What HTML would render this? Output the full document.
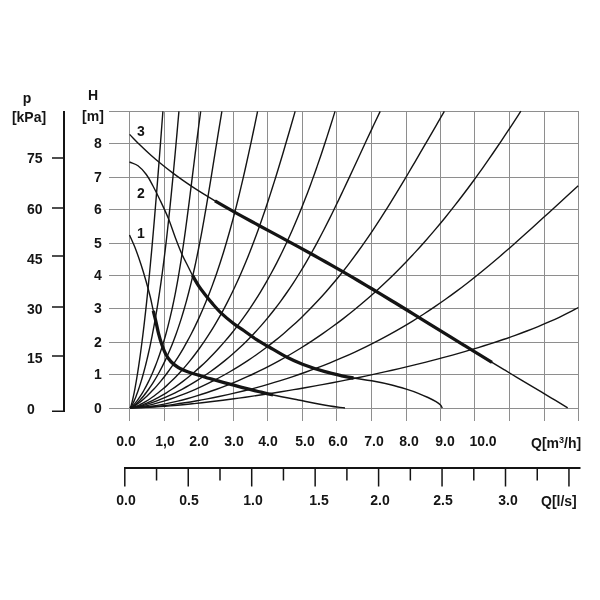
<!DOCTYPE html>
<html><head><meta charset="utf-8"><style>
html,body{margin:0;padding:0;background:#fff}
body{width:600px;height:600px;position:relative;overflow:hidden;font-family:"Liberation Sans",sans-serif;font-weight:bold;color:#141414}
.t{position:absolute;white-space:nowrap;line-height:1;font-size:14px;will-change:transform}
.c{transform:translateX(-50%)}
sup{font-size:9px;vertical-align:baseline;position:relative;top:-5px}
</style></head><body>
<svg width="600" height="600" viewBox="0 0 600 600" style="position:absolute;left:0;top:0">
<path d="M129.5 111 V420.5 M164.5 111 V420.5 M198.5 111 V420.5 M233.5 111 V420.5 M267.5 111 V420.5 M302.5 111 V420.5 M336.5 111 V420.5 M371.5 111 V420.5 M406.5 111 V420.5 M440.5 111 V420.5 M474.5 111 V420.5 M509.5 111 V420.5 M544.5 111 V420.5 M578.5 111 V420.5 M109 408.5 H579 M109 374.5 H579 M109 342.5 H579 M109 308.5 H579 M109 275.5 H579 M109 243.5 H579 M109 209.5 H579 M109 177.5 H579 M109 143.5 H579 M109 111.5 H579" stroke="#8e8e8e" stroke-width="1" fill="none" shape-rendering="crispEdges"/>
<path d="M130.00 407.80 C130.08 407.74 130.18 407.69 130.23 407.61 C130.35 407.45 130.44 407.25 130.53 407.06 C130.66 406.76 130.78 406.45 130.89 406.13 C131.04 405.70 131.18 405.27 131.31 404.84 C131.47 404.28 131.63 403.73 131.78 403.17 C131.96 402.49 132.13 401.81 132.30 401.13 C132.50 400.33 132.68 399.53 132.87 398.72 C133.08 397.80 133.28 396.87 133.48 395.94 C133.70 394.90 133.91 393.85 134.12 392.79 C134.36 391.62 134.59 390.45 134.81 389.28 C135.05 387.98 135.29 386.68 135.53 385.38 C135.78 383.97 136.03 382.55 136.27 381.12 C136.54 379.58 136.79 378.04 137.05 376.49 C137.32 374.83 137.58 373.16 137.84 371.49 C138.12 369.70 138.40 367.91 138.66 366.12 C138.95 364.21 139.23 362.29 139.50 360.38 C139.79 358.34 140.08 356.30 140.36 354.26 C140.66 352.10 140.95 349.94 141.23 347.78 C141.53 345.50 141.83 343.21 142.12 340.92 C142.43 338.52 142.73 336.11 143.02 333.70 C143.33 331.17 143.63 328.64 143.93 326.10 C144.24 323.45 144.55 320.79 144.85 318.14 C145.17 315.36 145.48 312.58 145.78 309.80 C146.10 306.90 146.42 304.00 146.72 301.10 C147.04 298.07 147.36 295.05 147.67 292.02 C147.99 288.87 148.31 285.72 148.63 282.57 C148.95 279.30 149.27 276.03 149.59 272.75 C149.91 269.36 150.24 265.96 150.55 262.56 C150.88 259.04 151.21 255.52 151.53 252.00 C151.86 248.36 152.19 244.72 152.51 241.07 C152.85 237.31 153.17 233.54 153.50 229.77 C153.84 225.88 154.17 221.99 154.50 218.10 C154.84 214.09 155.17 210.08 155.50 206.06 C155.85 201.93 156.19 197.79 156.52 193.65 C156.87 189.39 157.21 185.13 157.55 180.87 C157.90 176.48 158.24 172.10 158.59 167.72 C158.94 163.21 159.29 158.70 159.64 154.19 C160.00 149.56 160.35 144.93 160.71 140.30 C161.07 135.54 161.43 130.79 161.79 126.03 C162.16 121.16 162.53 116.28 162.89 111.40" stroke="#141414" stroke-width="1.4" fill="none"/>
<path d="M130.00 407.80 C130.12 407.74 130.26 407.70 130.36 407.61 C130.54 407.45 130.71 407.26 130.86 407.06 C131.08 406.76 131.29 406.45 131.48 406.13 C131.75 405.71 131.99 405.27 132.23 404.84 C132.53 404.29 132.81 403.73 133.08 403.17 C133.41 402.50 133.73 401.82 134.03 401.13 C134.39 400.33 134.73 399.53 135.07 398.72 C135.45 397.80 135.82 396.87 136.18 395.94 C136.58 394.90 136.97 393.85 137.35 392.79 C137.78 391.63 138.19 390.45 138.59 389.28 C139.03 387.98 139.46 386.69 139.87 385.38 C140.33 383.97 140.77 382.55 141.20 381.12 C141.66 379.58 142.12 378.04 142.56 376.49 C143.03 374.83 143.50 373.16 143.95 371.49 C144.43 369.70 144.90 367.91 145.36 366.12 C145.85 364.21 146.32 362.29 146.78 360.38 C147.28 358.34 147.75 356.30 148.22 354.26 C148.71 352.10 149.19 349.94 149.66 347.78 C150.16 345.50 150.64 343.21 151.10 340.92 C151.60 338.52 152.08 336.11 152.54 333.70 C153.03 331.17 153.51 328.64 153.98 326.10 C154.46 323.45 154.94 320.80 155.40 318.14 C155.88 315.36 156.35 312.58 156.81 309.80 C157.29 306.90 157.76 304.00 158.21 301.10 C158.68 298.07 159.14 295.05 159.59 292.02 C160.06 288.87 160.52 285.72 160.96 282.57 C161.42 279.30 161.87 276.03 162.31 272.75 C162.76 269.36 163.21 265.96 163.64 262.56 C164.09 259.05 164.53 255.53 164.96 252.00 C165.40 248.36 165.83 244.72 166.26 241.07 C166.69 237.31 167.12 233.54 167.54 229.77 C167.97 225.89 168.40 222.00 168.81 218.10 C169.24 214.09 169.66 210.08 170.08 206.06 C170.50 201.93 170.92 197.79 171.33 193.65 C171.75 189.39 172.17 185.13 172.58 180.87 C173.01 176.49 173.42 172.10 173.83 167.72 C174.26 163.21 174.67 158.70 175.09 154.19 C175.51 149.56 175.93 144.93 176.35 140.30 C176.78 135.54 177.21 130.79 177.63 126.03 C178.06 121.16 178.49 116.28 178.93 111.40" stroke="#141414" stroke-width="1.4" fill="none"/>
<path d="M130.00 407.80 C130.19 407.74 130.39 407.71 130.57 407.61 C130.86 407.46 131.14 407.26 131.40 407.06 C131.78 406.77 132.13 406.46 132.47 406.13 C132.91 405.72 133.34 405.28 133.75 404.84 C134.25 404.29 134.74 403.74 135.21 403.17 C135.77 402.50 136.31 401.82 136.84 401.13 C137.44 400.34 138.03 399.54 138.60 398.72 C139.24 397.81 139.86 396.88 140.47 395.94 C141.14 394.91 141.80 393.86 142.44 392.79 C143.14 391.63 143.83 390.46 144.49 389.28 C145.21 387.99 145.91 386.69 146.60 385.38 C147.33 383.97 148.05 382.55 148.75 381.12 C149.50 379.59 150.22 378.05 150.93 376.49 C151.68 374.84 152.41 373.17 153.12 371.49 C153.87 369.71 154.61 367.92 155.32 366.12 C156.07 364.21 156.80 362.30 157.50 360.38 C158.25 358.35 158.97 356.31 159.67 354.26 C160.40 352.11 161.12 349.95 161.81 347.78 C162.53 345.50 163.23 343.22 163.91 340.92 C164.62 338.52 165.31 336.11 165.97 333.70 C166.67 331.17 167.34 328.64 167.99 326.10 C168.67 323.46 169.33 320.80 169.96 318.14 C170.62 315.37 171.26 312.59 171.88 309.80 C172.52 306.91 173.14 304.00 173.74 301.10 C174.37 298.07 174.97 295.05 175.55 292.02 C176.16 288.87 176.75 285.72 177.32 282.57 C177.91 279.30 178.48 276.03 179.03 272.75 C179.60 269.36 180.16 265.96 180.70 262.56 C181.26 259.05 181.81 255.53 182.34 252.00 C182.88 248.36 183.42 244.72 183.94 241.07 C184.48 237.31 185.00 233.54 185.52 229.77 C186.05 225.89 186.57 222.00 187.08 218.10 C187.61 214.09 188.13 210.08 188.65 206.06 C189.18 201.93 189.70 197.79 190.22 193.65 C190.76 189.39 191.29 185.13 191.82 180.87 C192.36 176.48 192.90 172.10 193.45 167.72 C194.01 163.21 194.56 158.70 195.13 154.19 C195.71 149.56 196.29 144.93 196.88 140.30 C197.49 135.54 198.10 130.79 198.72 126.03 C199.36 121.16 200.02 116.28 200.67 111.40" stroke="#141414" stroke-width="1.4" fill="none"/>
<path d="M130.00 407.80 C130.27 407.74 130.56 407.71 130.82 407.61 C131.21 407.47 131.58 407.27 131.94 407.06 C132.43 406.78 132.90 406.46 133.35 406.13 C133.92 405.72 134.47 405.29 135.01 404.84 C135.65 404.30 136.27 403.74 136.88 403.17 C137.59 402.51 138.28 401.83 138.95 401.13 C139.72 400.34 140.46 399.54 141.19 398.72 C142.00 397.81 142.79 396.89 143.57 395.94 C144.42 394.91 145.25 393.86 146.07 392.79 C146.95 391.64 147.82 390.46 148.66 389.28 C149.57 387.99 150.46 386.70 151.33 385.38 C152.26 383.98 153.18 382.56 154.06 381.12 C155.01 379.59 155.93 378.05 156.83 376.49 C157.79 374.84 158.72 373.17 159.63 371.49 C160.59 369.71 161.52 367.92 162.43 366.12 C163.39 364.22 164.33 362.30 165.24 360.38 C166.19 358.35 167.12 356.31 168.02 354.26 C168.97 352.11 169.89 349.95 170.79 347.78 C171.72 345.51 172.63 343.22 173.51 340.92 C174.43 338.53 175.33 336.12 176.20 333.70 C177.10 331.18 177.98 328.65 178.83 326.10 C179.72 323.46 180.58 320.80 181.42 318.14 C182.29 315.37 183.13 312.59 183.94 309.80 C184.79 306.91 185.61 304.01 186.41 301.10 C187.24 298.08 188.04 295.05 188.82 292.02 C189.63 288.88 190.41 285.73 191.17 282.57 C191.96 279.30 192.72 276.03 193.47 272.75 C194.24 269.36 194.98 265.96 195.71 262.56 C196.46 259.05 197.19 255.53 197.91 252.00 C198.65 248.37 199.36 244.72 200.06 241.07 C200.79 237.31 201.50 233.54 202.19 229.77 C202.90 225.89 203.60 222.00 204.29 218.10 C205.00 214.09 205.69 210.08 206.38 206.06 C207.08 201.93 207.78 197.79 208.47 193.65 C209.17 189.39 209.87 185.13 210.57 180.87 C211.28 176.49 211.99 172.10 212.70 167.72 C213.43 163.21 214.15 158.70 214.87 154.19 C215.62 149.56 216.36 144.93 217.11 140.30 C217.88 135.54 218.65 130.79 219.43 126.03 C220.23 121.16 221.05 116.28 221.86 111.40" stroke="#141414" stroke-width="1.4" fill="none"/>
<path d="M130.00 407.80 C130.34 407.74 130.68 407.72 131.01 407.61 C131.49 407.47 131.95 407.27 132.41 407.06 C133.00 406.78 133.59 406.46 134.15 406.13 C134.86 405.72 135.55 405.29 136.22 404.84 C137.02 404.30 137.81 403.74 138.58 403.17 C139.47 402.51 140.34 401.83 141.20 401.13 C142.16 400.35 143.11 399.54 144.04 398.72 C145.07 397.81 146.09 396.89 147.09 395.94 C148.18 394.91 149.26 393.86 150.31 392.79 C151.46 391.64 152.58 390.47 153.69 389.28 C154.88 388.00 156.05 386.70 157.20 385.38 C158.42 383.98 159.62 382.56 160.81 381.12 C162.06 379.60 163.29 378.05 164.50 376.49 C165.78 374.84 167.04 373.18 168.27 371.49 C169.56 369.72 170.83 367.93 172.08 366.12 C173.39 364.22 174.67 362.31 175.92 360.38 C177.24 358.36 178.52 356.32 179.78 354.26 C181.10 352.12 182.39 349.96 183.65 347.78 C184.96 345.51 186.24 343.23 187.50 340.92 C188.80 338.53 190.08 336.12 191.33 333.70 C192.62 331.18 193.89 328.65 195.13 326.10 C196.41 323.46 197.66 320.81 198.88 318.14 C200.15 315.37 201.39 312.59 202.59 309.80 C203.84 306.91 205.06 304.01 206.25 301.10 C207.48 298.08 208.68 295.06 209.85 292.02 C211.05 288.88 212.23 285.73 213.38 282.57 C214.57 279.31 215.72 276.04 216.85 272.75 C218.01 269.37 219.15 265.97 220.26 262.56 C221.40 259.05 222.51 255.53 223.60 252.00 C224.72 248.37 225.81 244.73 226.87 241.07 C227.97 237.32 229.05 233.55 230.09 229.77 C231.17 225.89 232.23 222.00 233.26 218.10 C234.32 214.10 235.36 210.08 236.37 206.06 C237.42 201.93 238.44 197.79 239.45 193.65 C240.48 189.39 241.49 185.13 242.49 180.87 C243.51 176.49 244.51 172.10 245.50 167.72 C246.52 163.21 247.52 158.70 248.51 154.19 C249.52 149.56 250.52 144.93 251.51 140.30 C252.53 135.55 253.54 130.79 254.53 126.03 C255.56 121.16 256.57 116.28 257.58 111.40" stroke="#141414" stroke-width="1.4" fill="none"/>
<path d="M130.00 407.80 C130.61 407.74 131.23 407.72 131.83 407.61 C132.58 407.48 133.33 407.28 134.06 407.06 C134.95 406.79 135.82 406.48 136.67 406.13 C137.67 405.73 138.65 405.30 139.62 404.84 C140.71 404.31 141.79 403.75 142.86 403.17 C144.05 402.52 145.22 401.84 146.38 401.13 C147.64 400.36 148.90 399.55 150.13 398.72 C151.47 397.82 152.79 396.90 154.09 395.94 C155.49 394.92 156.88 393.87 158.24 392.79 C159.69 391.65 161.13 390.47 162.54 389.28 C164.04 388.00 165.51 386.71 166.97 385.38 C168.50 383.99 170.02 382.57 171.51 381.12 C173.07 379.60 174.62 378.06 176.13 376.49 C177.72 374.85 179.28 373.18 180.82 371.49 C182.43 369.72 184.01 367.93 185.56 366.12 C187.17 364.23 188.76 362.31 190.32 360.38 C191.94 358.36 193.54 356.32 195.10 354.26 C196.72 352.12 198.32 349.96 199.88 347.78 C201.50 345.52 203.09 343.23 204.65 340.92 C206.26 338.54 207.84 336.13 209.39 333.70 C210.99 331.19 212.56 328.66 214.09 326.10 C215.68 323.47 217.24 320.81 218.76 318.14 C220.33 315.38 221.87 312.60 223.37 309.80 C224.93 306.92 226.45 304.01 227.93 301.10 C229.47 298.09 230.97 295.06 232.44 292.02 C233.95 288.89 235.43 285.73 236.88 282.57 C238.37 279.31 239.83 276.04 241.26 272.75 C242.74 269.37 244.18 265.97 245.59 262.56 C247.04 259.06 248.46 255.54 249.85 252.00 C251.28 248.37 252.69 244.73 254.06 241.07 C255.48 237.32 256.86 233.55 258.23 229.77 C259.62 225.89 261.00 222.00 262.35 218.10 C263.73 214.10 265.09 210.08 266.44 206.06 C267.81 201.93 269.17 197.79 270.50 193.65 C271.87 189.40 273.22 185.13 274.55 180.87 C275.92 176.49 277.27 172.10 278.61 167.72 C279.98 163.21 281.33 158.70 282.68 154.19 C284.06 149.57 285.42 144.93 286.78 140.30 C288.17 135.55 289.56 130.79 290.93 126.03 C292.35 121.16 293.75 116.28 295.15 111.40" stroke="#141414" stroke-width="1.4" fill="none"/>
<path d="M130.00 407.80 C130.82 407.74 131.66 407.73 132.47 407.61 C133.47 407.48 134.46 407.29 135.43 407.06 C136.58 406.79 137.71 406.48 138.84 406.13 C140.12 405.74 141.39 405.30 142.64 404.84 C144.05 404.31 145.44 403.76 146.81 403.17 C148.33 402.52 149.82 401.84 151.31 401.13 C152.92 400.36 154.52 399.56 156.09 398.72 C157.79 397.83 159.47 396.90 161.14 395.94 C162.91 394.92 164.67 393.87 166.40 392.79 C168.24 391.65 170.06 390.48 171.86 389.28 C173.75 388.01 175.63 386.71 177.48 385.38 C179.42 383.99 181.34 382.57 183.24 381.12 C185.21 379.61 187.17 378.07 189.10 376.49 C191.10 374.86 193.09 373.19 195.04 371.49 C197.07 369.73 199.08 367.94 201.05 366.12 C203.09 364.23 205.11 362.32 207.09 360.38 C209.14 358.37 211.17 356.33 213.16 354.26 C215.21 352.13 217.23 349.97 219.22 347.78 C221.27 345.52 223.28 343.24 225.26 340.92 C227.30 338.55 229.31 336.14 231.28 333.70 C233.30 331.20 235.29 328.66 237.24 326.10 C239.25 323.48 241.22 320.82 243.15 318.14 C245.13 315.39 247.08 312.61 248.99 309.80 C250.95 306.93 252.87 304.02 254.75 301.10 C256.68 298.09 258.57 295.07 260.42 292.02 C262.32 288.89 264.18 285.74 266.01 282.57 C267.87 279.32 269.70 276.05 271.49 272.75 C273.33 269.38 275.12 265.98 276.88 262.56 C278.68 259.06 280.45 255.54 282.17 252.00 C283.94 248.38 285.67 244.74 287.36 241.07 C289.10 237.33 290.79 233.56 292.45 229.77 C294.16 225.90 295.82 222.01 297.45 218.10 C299.12 214.10 300.76 210.09 302.36 206.06 C304.00 201.94 305.61 197.80 307.19 193.65 C308.81 189.40 310.39 185.14 311.95 180.87 C313.54 176.50 315.10 172.11 316.64 167.72 C318.21 163.22 319.75 158.71 321.28 154.19 C322.83 149.57 324.37 144.94 325.88 140.30 C327.42 135.55 328.95 130.80 330.45 126.03 C332.00 121.16 333.50 116.28 335.02 111.40" stroke="#141414" stroke-width="1.4" fill="none"/>
<path d="M130.00 407.80 C130.95 407.74 131.90 407.72 132.84 407.61 C134.03 407.48 135.21 407.28 136.39 407.06 C137.78 406.79 139.17 406.48 140.56 406.13 C142.14 405.74 143.72 405.30 145.29 404.84 C147.04 404.31 148.78 403.76 150.51 403.17 C152.41 402.52 154.30 401.84 156.17 401.13 C158.19 400.36 160.20 399.56 162.20 398.72 C164.33 397.83 166.44 396.90 168.54 395.94 C170.76 394.93 172.97 393.88 175.16 392.79 C177.45 391.66 179.73 390.48 181.99 389.28 C184.34 388.01 186.67 386.72 188.98 385.38 C191.38 384.00 193.76 382.58 196.11 381.12 C198.54 379.62 200.95 378.08 203.33 376.49 C205.78 374.86 208.21 373.20 210.60 371.49 C213.06 369.74 215.49 367.95 217.89 366.12 C220.35 364.24 222.78 362.33 225.18 360.38 C227.63 358.38 230.05 356.34 232.43 354.26 C234.86 352.14 237.26 349.98 239.62 347.78 C242.03 345.53 244.41 343.25 246.74 340.92 C249.13 338.56 251.47 336.15 253.77 333.70 C256.12 331.21 258.43 328.67 260.70 326.10 C263.01 323.49 265.28 320.83 267.51 318.14 C269.79 315.40 272.02 312.61 274.21 309.80 C276.44 306.93 278.63 304.03 280.78 301.10 C282.98 298.10 285.13 295.07 287.24 292.02 C289.39 288.90 291.50 285.75 293.57 282.57 C295.69 279.32 297.76 276.05 299.80 272.75 C301.88 269.38 303.93 265.98 305.93 262.56 C307.98 259.07 310.00 255.54 311.98 252.00 C314.00 248.38 315.99 244.74 317.95 241.07 C319.96 237.33 321.94 233.56 323.89 229.77 C325.88 225.90 327.85 222.01 329.79 218.10 C331.79 214.10 333.76 210.09 335.71 206.06 C337.71 201.93 339.69 197.80 341.65 193.65 C343.68 189.40 345.68 185.13 347.67 180.87 C349.72 176.49 351.76 172.10 353.79 167.72 C355.89 163.21 357.97 158.70 360.06 154.19 C362.21 149.56 364.36 144.93 366.52 140.30 C368.74 135.54 370.97 130.78 373.22 126.03 C375.53 121.15 377.87 116.28 380.20 111.40" stroke="#141414" stroke-width="1.4" fill="none"/>
<path d="M130.00 407.80 C131.34 407.74 132.69 407.73 134.03 407.61 C135.62 407.48 137.21 407.29 138.79 407.06 C140.61 406.79 142.42 406.48 144.22 406.13 C146.24 405.74 148.25 405.31 150.24 404.84 C152.44 404.32 154.62 403.76 156.80 403.17 C159.15 402.53 161.49 401.85 163.82 401.13 C166.30 400.37 168.78 399.56 171.24 398.72 C173.85 397.83 176.44 396.91 179.02 395.94 C181.72 394.93 184.42 393.88 187.09 392.79 C189.88 391.66 192.66 390.49 195.41 389.28 C198.27 388.02 201.11 386.72 203.93 385.38 C206.84 384.00 209.74 382.59 212.61 381.12 C215.56 379.62 218.50 378.08 221.41 376.49 C224.39 374.87 227.35 373.20 230.28 371.49 C233.28 369.74 236.25 367.95 239.20 366.12 C242.21 364.25 245.19 362.33 248.14 360.38 C251.14 358.38 254.12 356.34 257.06 354.26 C260.05 352.15 263.02 349.98 265.95 347.78 C268.93 345.54 271.87 343.25 274.78 340.92 C277.73 338.56 280.65 336.15 283.54 333.70 C286.46 331.21 289.35 328.68 292.20 326.10 C295.10 323.49 297.95 320.84 300.77 318.14 C303.63 315.40 306.45 312.62 309.23 309.80 C312.05 306.94 314.83 304.04 317.58 301.10 C320.36 298.11 323.10 295.08 325.81 292.02 C328.55 288.91 331.26 285.75 333.92 282.57 C336.64 279.33 339.30 276.06 341.93 272.75 C344.61 269.39 347.25 265.99 349.84 262.56 C352.49 259.07 355.10 255.55 357.67 252.00 C360.29 248.39 362.87 244.74 365.41 241.07 C368.01 237.33 370.57 233.56 373.11 229.77 C375.69 225.91 378.24 222.01 380.76 218.10 C383.34 214.11 385.88 210.09 388.41 206.06 C390.99 201.94 393.54 197.80 396.07 193.65 C398.66 189.40 401.23 185.14 403.78 180.87 C406.39 176.49 408.98 172.11 411.57 167.72 C414.22 163.22 416.85 158.70 419.48 154.19 C422.17 149.57 424.86 144.93 427.54 140.30 C430.30 135.55 433.05 130.79 435.81 126.03 C438.65 121.15 441.49 116.28 444.33 111.40" stroke="#141414" stroke-width="1.4" fill="none"/>
<path d="M130.00 407.80 C132.25 407.74 134.50 407.73 136.74 407.61 C139.18 407.49 141.61 407.30 144.03 407.06 C146.64 406.80 149.23 406.49 151.82 406.13 C154.58 405.75 157.33 405.31 160.06 404.83 C162.96 404.33 165.84 403.77 168.71 403.17 C171.73 402.53 174.73 401.85 177.73 401.13 C180.85 400.37 183.96 399.57 187.06 398.72 C190.28 397.84 193.49 396.91 196.68 395.94 C199.99 394.93 203.28 393.88 206.55 392.78 C209.93 391.66 213.29 390.48 216.63 389.26 C220.07 388.01 223.49 386.71 226.89 385.37 C230.38 383.99 233.85 382.57 237.30 381.11 C240.83 379.61 244.34 378.06 247.82 376.47 C251.38 374.85 254.92 373.18 258.44 371.47 C262.02 369.72 265.58 367.93 269.12 366.09 C272.71 364.22 276.29 362.31 279.84 360.34 C283.44 358.35 287.02 356.31 290.57 354.23 C294.18 352.11 297.76 349.95 301.31 347.74 C304.91 345.50 308.49 343.21 312.03 340.88 C315.62 338.52 319.18 336.11 322.71 333.65 C326.29 331.16 329.83 328.63 333.34 326.05 C336.90 323.44 340.43 320.78 343.91 318.08 C347.45 315.34 350.95 312.56 354.41 309.74 C357.92 306.88 361.39 303.97 364.83 301.02 C368.31 298.04 371.75 295.01 375.16 291.94 C378.61 288.83 382.02 285.68 385.39 282.49 C388.81 279.25 392.19 275.98 395.53 272.66 C398.92 269.30 402.27 265.90 405.58 262.47 C408.93 258.98 412.25 255.46 415.53 251.90 C418.85 248.29 422.14 244.64 425.38 240.96 C428.68 237.23 431.93 233.46 435.15 229.65 C438.42 225.79 441.65 221.90 444.84 217.98 C448.08 213.99 451.28 209.97 454.45 205.93 C457.67 201.82 460.85 197.67 464.00 193.51 C467.21 189.27 470.37 185.00 473.51 180.72 C476.69 176.35 479.85 171.96 482.97 167.55 C486.15 163.07 489.30 158.55 492.42 154.02 C495.60 149.41 498.74 144.77 501.87 140.12 C505.05 135.38 508.20 130.62 511.33 125.84 C514.52 120.98 517.67 116.08 520.84 111.20" stroke="#141414" stroke-width="1.4" fill="none"/>
<path d="M130.00 407.80 C132.45 407.75 134.90 407.75 137.35 407.66 C140.07 407.56 142.80 407.42 145.52 407.25 C148.49 407.05 151.46 406.82 154.43 406.55 C157.62 406.26 160.81 405.94 164.00 405.58 C167.38 405.20 170.76 404.78 174.14 404.33 C177.69 403.86 181.24 403.35 184.79 402.81 C188.48 402.24 192.18 401.64 195.86 401.00 C199.68 400.34 203.50 399.65 207.31 398.92 C211.23 398.17 215.14 397.38 219.05 396.56 C223.05 395.72 227.05 394.84 231.04 393.93 C235.11 392.99 239.17 392.02 243.22 391.01 C247.33 389.99 251.44 388.92 255.53 387.82 C259.68 386.70 263.82 385.55 267.94 384.35 C272.11 383.14 276.26 381.90 280.40 380.61 C284.57 379.31 288.73 377.97 292.87 376.58 C297.04 375.19 301.19 373.76 305.32 372.28 C309.47 370.80 313.60 369.27 317.72 367.70 C321.84 366.13 325.94 364.51 330.03 362.85 C334.12 361.18 338.19 359.47 342.24 357.71 C346.29 355.95 350.32 354.15 354.33 352.30 C358.34 350.45 362.33 348.55 366.29 346.61 C370.25 344.67 374.19 342.68 378.10 340.64 C382.01 338.61 385.90 336.53 389.76 334.40 C393.62 332.27 397.46 330.10 401.27 327.88 C405.08 325.66 408.86 323.39 412.62 321.08 C416.39 318.77 420.12 316.41 423.83 314.00 C427.55 311.60 431.24 309.14 434.90 306.65 C438.58 304.15 442.23 301.60 445.85 299.02 C449.49 296.42 453.11 293.78 456.70 291.11 C460.31 288.42 463.90 285.69 467.46 282.93 C471.05 280.14 474.62 277.31 478.16 274.46 C481.75 271.58 485.30 268.66 488.84 265.72 C492.42 262.74 495.98 259.73 499.53 256.70 C503.12 253.63 506.70 250.52 510.26 247.41 C513.88 244.23 517.48 241.04 521.07 237.83 C524.74 234.56 528.38 231.27 532.02 227.98 C535.74 224.61 539.45 221.23 543.16 217.85 C546.95 214.39 550.74 210.91 554.53 207.45 C558.42 203.88 562.30 200.32 566.19 196.76 C570.20 193.10 574.21 189.45 578.22 185.80" stroke="#141414" stroke-width="1.4" fill="none"/>
<path d="M130.00 407.80 C132.00 407.78 134.00 407.78 136.00 407.74 C138.18 407.69 140.36 407.63 142.54 407.55 C144.89 407.46 147.24 407.36 149.59 407.24 C152.11 407.11 154.63 406.96 157.15 406.80 C159.84 406.62 162.52 406.44 165.21 406.23 C168.05 406.02 170.90 405.79 173.74 405.54 C176.74 405.29 179.73 405.01 182.73 404.73 C185.87 404.43 189.02 404.11 192.16 403.79 C195.45 403.45 198.74 403.09 202.02 402.72 C205.44 402.34 208.86 401.94 212.28 401.53 C215.83 401.11 219.38 400.67 222.93 400.21 C226.60 399.75 230.27 399.27 233.94 398.77 C237.73 398.26 241.51 397.74 245.30 397.21 C249.19 396.65 253.08 396.09 256.97 395.51 C260.96 394.92 264.95 394.31 268.94 393.70 C273.02 393.06 277.11 392.41 281.18 391.75 C285.35 391.08 289.51 390.39 293.67 389.68 C297.91 388.97 302.15 388.24 306.38 387.49 C310.69 386.73 314.99 385.96 319.29 385.17 C323.65 384.37 328.01 383.56 332.36 382.73 C336.77 381.88 341.17 381.03 345.57 380.15 C350.01 379.27 354.45 378.38 358.89 377.46 C363.36 376.54 367.82 375.60 372.28 374.64 C376.77 373.67 381.25 372.69 385.72 371.69 C390.21 370.69 394.70 369.66 399.18 368.62 C403.66 367.58 408.14 366.51 412.62 365.42 C417.09 364.34 421.55 363.23 426.00 362.10 C430.44 360.97 434.88 359.83 439.30 358.65 C443.70 357.49 448.09 356.30 452.48 355.08 C456.83 353.87 461.17 352.64 465.50 351.38 C469.78 350.13 474.05 348.86 478.32 347.56 C482.52 346.27 486.72 344.96 490.90 343.61 C495.02 342.28 499.12 340.93 503.22 339.53 C507.23 338.17 511.23 336.77 515.22 335.33 C519.11 333.93 523.00 332.49 526.86 331.01 C530.63 329.56 534.38 328.08 538.11 326.56 C541.73 325.08 545.34 323.55 548.93 321.98 C552.39 320.46 555.84 318.90 559.26 317.28 C562.55 315.72 565.82 314.12 569.06 312.45 C572.17 310.86 575.22 309.15 578.30 307.50" stroke="#141414" stroke-width="1.4" fill="none"/>
<path d="M129.60 134.38 C133.16 138.03 136.63 141.76 140.28 145.31 C143.75 148.71 147.32 152.02 150.95 155.25 C154.44 158.35 158.01 161.37 161.62 164.32 C165.12 167.18 168.69 169.95 172.30 172.67 C175.81 175.31 179.38 177.88 182.97 180.39 C186.49 182.86 190.06 185.26 193.65 187.61 C197.18 189.93 200.74 192.19 204.32 194.41 C207.86 196.61 211.42 198.76 215.00 200.88 C219.59 203.59 224.21 206.26 228.85 208.90 C233.45 211.51 238.07 214.07 242.70 216.62 C247.30 219.16 251.93 221.66 256.55 224.17 C261.16 226.67 265.78 229.15 270.40 231.64 C275.02 234.13 279.64 236.61 284.25 239.11 C288.87 241.61 293.49 244.11 298.10 246.63 C302.72 249.16 307.34 251.70 311.95 254.26 C316.58 256.83 321.19 259.41 325.80 262.01 C330.43 264.62 335.04 267.25 339.65 269.90 C344.28 272.55 348.89 275.23 353.50 277.93 C358.13 280.63 362.74 283.36 367.35 286.10 C371.98 288.84 376.59 291.61 381.20 294.39 C385.82 297.17 390.44 299.97 395.05 302.78 C399.67 305.60 404.29 308.42 408.90 311.25 C413.52 314.09 418.14 316.94 422.75 319.78 C427.37 322.63 431.98 325.48 436.60 328.33 C441.22 331.18 445.83 334.04 450.45 336.88 C455.06 339.73 459.68 342.57 464.30 345.41 C468.91 348.24 473.53 351.07 478.15 353.90 C482.76 356.71 487.38 359.52 492.00 362.33 C496.20 364.88 500.41 367.42 504.62 369.96 C508.82 372.49 513.03 375.02 517.23 377.55 C521.44 380.07 525.64 382.58 529.85 385.10 C534.05 387.62 538.26 390.13 542.47 392.64 C546.67 395.16 550.88 397.68 555.08 400.21 C559.29 402.74 563.49 405.29 567.70 407.83" stroke="#141414" stroke-width="1.4" fill="none"/>
<path d="M215.00 200.88 C219.59 203.59 224.21 206.26 228.85 208.90 C233.45 211.51 238.07 214.07 242.70 216.62 C247.30 219.16 251.93 221.66 256.55 224.17 C261.16 226.67 265.78 229.15 270.40 231.64 C275.02 234.13 279.64 236.61 284.25 239.11 C288.87 241.61 293.49 244.11 298.10 246.63 C302.72 249.16 307.34 251.70 311.95 254.26 C316.58 256.83 321.19 259.41 325.80 262.01 C330.43 264.62 335.04 267.25 339.65 269.90 C344.28 272.55 348.89 275.23 353.50 277.93 C358.13 280.63 362.74 283.36 367.35 286.10 C371.98 288.84 376.59 291.61 381.20 294.39 C385.82 297.17 390.44 299.97 395.05 302.78 C399.67 305.60 404.29 308.42 408.90 311.25 C413.52 314.09 418.14 316.94 422.75 319.78 C427.37 322.63 431.98 325.48 436.60 328.33 C441.22 331.18 445.83 334.04 450.45 336.88 C455.06 339.73 459.68 342.57 464.30 345.41 C468.91 348.24 473.53 351.07 478.15 353.90 C482.76 356.71 487.38 359.52 492.00 362.33" stroke="#141414" stroke-width="3.3" fill="none" stroke-linecap="butt"/>
<path d="M129.50 162.00 C132.33 163.27 135.56 163.98 138.00 165.80 C141.16 168.15 143.93 171.30 146.30 174.50 C148.93 178.04 150.90 182.09 153.00 186.00 C155.47 190.59 157.77 195.29 160.00 200.00 C162.87 206.05 165.77 212.10 168.30 218.30 C170.77 224.34 172.69 230.60 175.00 236.70 C177.16 242.40 179.25 248.13 181.70 253.70 C183.69 258.23 186.09 262.57 188.30 267.00 C189.69 269.77 191.01 272.58 192.50 275.30 C194.35 278.68 196.20 282.08 198.30 285.30 C200.37 288.48 202.68 291.50 205.00 294.50 C207.42 297.63 209.90 300.72 212.50 303.70 C215.30 306.92 218.10 310.18 221.20 313.10 C225.10 316.78 229.26 320.22 233.50 323.50 C236.76 326.02 240.32 328.13 243.70 330.50 C247.89 333.43 251.92 336.61 256.20 339.40 C259.99 341.87 263.99 344.02 267.90 346.30 C274.25 349.99 280.48 353.93 287.00 357.30 C292.02 359.90 297.22 362.20 302.50 364.20 C309.88 367.00 317.43 369.46 325.00 371.70 C330.49 373.33 336.11 374.56 341.70 375.80 C345.61 376.66 349.55 377.34 353.50 378.00 C359.55 379.01 365.66 379.69 371.70 380.80 C378.40 382.03 385.08 383.39 391.70 385.00 C396.62 386.19 401.47 387.69 406.30 389.20 C410.33 390.46 414.35 391.79 418.30 393.30 C421.59 394.56 424.82 395.99 428.00 397.50 C430.72 398.79 433.42 400.15 436.00 401.70 C437.59 402.65 439.21 403.71 440.50 405.00 C441.31 405.81 441.70 407.00 442.30 408.00" stroke="#141414" stroke-width="1.4" fill="none"/>
<path d="M192.50 275.30 C194.35 278.68 196.20 282.08 198.30 285.30 C200.37 288.48 202.68 291.50 205.00 294.50 C207.42 297.63 209.90 300.72 212.50 303.70 C215.30 306.92 218.10 310.18 221.20 313.10 C225.10 316.78 229.26 320.22 233.50 323.50 C236.76 326.02 240.32 328.13 243.70 330.50 C247.89 333.43 251.92 336.61 256.20 339.40 C259.99 341.87 263.99 344.02 267.90 346.30 C274.25 349.99 280.48 353.93 287.00 357.30 C292.02 359.90 297.22 362.20 302.50 364.20 C309.88 367.00 317.43 369.46 325.00 371.70 C330.49 373.33 336.11 374.56 341.70 375.80 C345.61 376.66 349.55 377.34 353.50 378.00" stroke="#141414" stroke-width="3.3" fill="none" stroke-linecap="butt"/>
<path d="M129.50 235.00 C131.33 239.17 133.35 243.26 135.00 247.50 C137.18 253.09 139.13 258.79 141.00 264.50 C142.79 269.96 144.42 275.48 146.00 281.00 C147.52 286.31 148.99 291.64 150.30 297.00 C151.42 301.57 152.25 306.21 153.30 310.80 C154.08 314.21 155.01 317.59 155.80 321.00 C156.75 325.09 157.45 329.24 158.50 333.30 C159.52 337.24 160.66 341.16 162.00 345.00 C163.09 348.13 164.25 351.29 165.80 354.20 C167.18 356.79 168.80 359.37 170.80 361.50 C172.97 363.81 175.58 365.87 178.30 367.50 C181.41 369.37 184.89 370.70 188.30 372.00 C191.62 373.27 195.09 374.15 198.50 375.20 C202.89 376.55 207.28 377.93 211.70 379.20 C216.11 380.47 220.57 381.60 225.00 382.80 C230.57 384.30 236.12 385.84 241.70 387.30 C247.22 388.74 252.76 390.14 258.30 391.50 C263.19 392.70 268.07 393.95 273.00 395.00 C281.41 396.79 289.86 398.37 298.30 400.00 C308.86 402.04 319.40 404.18 330.00 406.00 C334.97 406.85 340.00 407.33 345.00 408.00" stroke="#141414" stroke-width="1.4" fill="none"/>
<path d="M153.30 310.80 C154.08 314.21 155.01 317.59 155.80 321.00 C156.75 325.09 157.45 329.24 158.50 333.30 C159.52 337.24 160.66 341.16 162.00 345.00 C163.09 348.13 164.25 351.29 165.80 354.20 C167.18 356.79 168.80 359.37 170.80 361.50 C172.97 363.81 175.58 365.87 178.30 367.50 C181.41 369.37 184.89 370.70 188.30 372.00 C191.62 373.27 195.09 374.15 198.50 375.20 C202.89 376.55 207.28 377.93 211.70 379.20 C216.11 380.47 220.57 381.60 225.00 382.80 C230.57 384.30 236.12 385.84 241.70 387.30 C247.22 388.74 252.76 390.14 258.30 391.50 C263.19 392.70 268.07 393.95 273.00 395.00" stroke="#141414" stroke-width="3.3" fill="none" stroke-linecap="butt"/>
<path d="M64 111 V412" stroke="#141414" stroke-width="2" fill="none"/>
<path d="M52 158 H64 M52 208 H64 M52 256 H64 M52 307 H64 M52 356 H64 M52 411.2 H64" stroke="#141414" stroke-width="1.5" fill="none"/>
<path d="M124 468 H580.5" stroke="#141414" stroke-width="2" fill="none"/>
<path d="M124.80 468 V486.5 M188.25 468 V486.5 M251.70 468 V486.5 M315.15 468 V486.5 M378.60 468 V486.5 M442.05 468 V486.5 M505.50 468 V486.5 M568.95 468 V486.5 M156.55 468 V480.5 M220.00 468 V480.5 M283.45 468 V480.5 M346.90 468 V480.5 M410.35 468 V480.5 M473.80 468 V480.5 M537.25 468 V480.5" stroke="#141414" stroke-width="1.5" fill="none"/>
</svg>
<div class="t c" style="left:27.25px;top:90.75px;font-size:14.0px">p</div>
<div class="t c" style="left:29.10px;top:109.95px;font-size:14.0px">[kPa]</div>
<div class="t" style="left:27.30px;top:151.35px;font-size:14.0px">75</div>
<div class="t" style="left:27.30px;top:201.95px;font-size:14.0px">60</div>
<div class="t" style="left:27.30px;top:251.65px;font-size:14.0px">45</div>
<div class="t" style="left:27.30px;top:302.05px;font-size:14.0px">30</div>
<div class="t" style="left:27.30px;top:350.65px;font-size:14.0px">15</div>
<div class="t" style="left:27.30px;top:402.25px;font-size:14.0px">0</div>
<div class="t c" style="left:92.75px;top:87.65px;font-size:14.0px">H</div>
<div class="t c" style="left:92.75px;top:108.85px;font-size:14.0px">[m]</div>
<div class="t c" style="left:97.60px;top:401.25px;font-size:14.0px">0</div>
<div class="t c" style="left:97.60px;top:367.25px;font-size:14.0px">1</div>
<div class="t c" style="left:97.60px;top:335.25px;font-size:14.0px">2</div>
<div class="t c" style="left:97.60px;top:301.25px;font-size:14.0px">3</div>
<div class="t c" style="left:97.60px;top:268.25px;font-size:14.0px">4</div>
<div class="t c" style="left:97.60px;top:236.25px;font-size:14.0px">5</div>
<div class="t c" style="left:97.60px;top:202.25px;font-size:14.0px">6</div>
<div class="t c" style="left:97.60px;top:169.95px;font-size:14.0px">7</div>
<div class="t c" style="left:97.60px;top:136.25px;font-size:14.0px">8</div>
<div class="t c" style="left:140.75px;top:124.25px;font-size:14.0px">3</div>
<div class="t c" style="left:140.75px;top:186.25px;font-size:14.0px">2</div>
<div class="t c" style="left:140.75px;top:225.65px;font-size:14.0px">1</div>
<div class="t c" style="left:125.50px;top:434.45px;font-size:14.0px">0.0</div>
<div class="t c" style="left:165.00px;top:434.45px;font-size:14.0px">1,0</div>
<div class="t c" style="left:198.50px;top:434.45px;font-size:14.0px">2.0</div>
<div class="t c" style="left:233.50px;top:434.45px;font-size:14.0px">3.0</div>
<div class="t c" style="left:268.00px;top:434.45px;font-size:14.0px">4.0</div>
<div class="t c" style="left:305.00px;top:434.45px;font-size:14.0px">5.0</div>
<div class="t c" style="left:337.50px;top:434.45px;font-size:14.0px">6.0</div>
<div class="t c" style="left:373.70px;top:434.45px;font-size:14.0px">7.0</div>
<div class="t c" style="left:409.00px;top:434.45px;font-size:14.0px">8.0</div>
<div class="t c" style="left:444.50px;top:434.45px;font-size:14.0px">9.0</div>
<div class="t c" style="left:483.00px;top:434.45px;font-size:14.0px">10.0</div>
<div class="t c" style="left:125.50px;top:493.15px;font-size:14.0px">0.0</div>
<div class="t c" style="left:189.25px;top:493.15px;font-size:14.0px">0.5</div>
<div class="t c" style="left:252.90px;top:493.15px;font-size:14.0px">1.0</div>
<div class="t c" style="left:318.50px;top:493.15px;font-size:14.0px">1.5</div>
<div class="t c" style="left:380.00px;top:493.15px;font-size:14.0px">2.0</div>
<div class="t c" style="left:443.00px;top:493.15px;font-size:14.0px">2.5</div>
<div class="t c" style="left:507.50px;top:493.15px;font-size:14.0px">3.0</div>
<div class="t" style="left:530.5px;top:436.45px">Q[m<sup>3</sup>/h]</div>
<div class="t" style="left:540.5px;top:493.65px">Q[l/s]</div>
</body></html>
